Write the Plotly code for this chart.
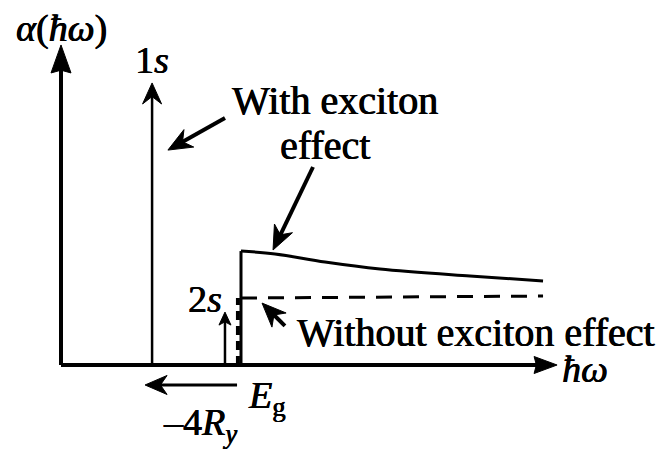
import numpy as np
import plotly.graph_objects as go

PX = 180.0  # screen pixels per data unit, same on both axes

# Photon energy (arbitrary units, band gap at 1.0) and absorption strength
E_GAP = 1.0
level_names = ["1s", "2s"]
level_energy = [0.506, 0.911]
level_height = [1.567, 0.294]

# Continuum absorption with the excitonic (Sommerfeld) enhancement
with_x = [1.0, 1.189, 1.467, 1.772, 2.272, 2.678]
with_y = [0.633, 0.617, 0.572, 0.533, 0.494, 0.467]

# Free-carrier step absorption without exciton effect
without_x = [1.0, 2.678]
without_y = [0.372, 0.383]
without_edge_x = 0.983

# Axis extents
axis_x_end = 2.756
axis_y_end = 1.778

# Binding-energy arrow (-4 Ry), drawn below the energy axis
ry_arrow_x = [0.978, 0.467]
ry_arrow_y = -0.111

# Pointer arrows: (tail x, tail y, tip x, tip y)
pointers = [
    (0.911, 1.372, 0.594, 1.194),
    (1.400, 1.100, 1.178, 0.639),
    (1.244, 0.217, 1.117, 0.344),
]

FONT = "Liberation Serif, Times New Roman, DejaVu Serif, serif"
SHADOW = "0.6px 0px 0px black, -0.3px 0px 0px black"
fig = go.Figure()


def add_line(xs, ys, width=3, dash="solid", shape="linear"):
    fig.add_trace(go.Scatter(x=xs, y=ys, mode="lines",
                             line=dict(color="black", width=width, dash=dash, shape=shape),
                             hoverinfo="skip"))


def add_arrow(tail, tip, width=3, head_len=22, head_w=18, notch=0.2):
    tail = np.array(tail, float)
    tip = np.array(tip, float)
    d = tip - tail
    d /= np.linalg.norm(d)
    n = np.array([-d[1], d[0]])
    L = head_len / PX
    W = head_w / PX / 2
    base = tip - d * L
    back = base + d * L * notch
    end = tip - d * L * 0.6
    add_line([tail[0], end[0]], [tail[1], end[1]], width=width)
    pts = [tip, base + n * W, back, base - n * W, tip]
    fig.add_trace(go.Scatter(x=[p[0] for p in pts], y=[p[1] for p in pts],
                             mode="lines", fill="toself", fillcolor="black",
                             line=dict(color="black", width=1), hoverinfo="skip"))


# Axes
add_arrow((0, 0), (0, axis_y_end), width=4, head_len=28, head_w=20, notch=0.1)
add_arrow((0, 0), (axis_x_end, 0), width=4, head_len=23, head_w=17, notch=0.1)

# Discrete exciton lines
add_arrow((level_energy[0], 0), (level_energy[0], level_height[0]),
          width=2.5, head_len=21, head_w=19, notch=0.35)
add_arrow((level_energy[1], 0), (level_energy[1], level_height[1]),
          width=2.5, head_len=13, head_w=12, notch=0.25)

# Continuum with exciton effect
add_line([E_GAP, E_GAP], [0, with_y[0]], width=3)
add_line(with_x, with_y, width=3, shape="spline")

# Continuum without exciton effect
add_line([without_edge_x, without_edge_x], [0, without_y[0]], width=4, dash="9px,6px")
add_line(without_x, without_y, width=3, dash="16px,11px")

# -4 Ry arrow
add_arrow((ry_arrow_x[0], ry_arrow_y), (ry_arrow_x[1], ry_arrow_y),
          width=3, head_len=22, head_w=19, notch=0.3)

# Pointers
for tx, ty, hx, hy in pointers:
    add_arrow((tx, ty), (hx, hy), width=4, head_len=24, head_w=20, notch=0.3)

texts = [
    (0.0, 1.872, "<i>α</i>(<i>ħω</i>)", 38),
    (level_energy[0], 1.694, "1<i>s</i>", 38),
    (0.800, 0.367, "2<i>s</i>", 38),
    (1.144, -0.183, "<i>E</i><sub>g</sub>", 38),
    (0.772, -0.335, "–4<i>R</i><sub><i>y</i></sub>", 38),
    (2.911, -0.022, "<i>ħω</i>", 38),
    (1.522, 1.472, "With exciton", 40),
    (1.467, 1.222, "effect", 40),
    (2.306, 0.178, "Without exciton effect", 40),
]
for x, y, t, s in texts:
    fig.add_annotation(x=x, y=y, text=t, showarrow=False,
                       font=dict(family=FONT, size=s, color="black", shadow=SHADOW),
                       xanchor="center", yanchor="middle")

fig.update_layout(
    width=666, height=449,
    margin=dict(l=0, r=0, t=0, b=0),
    paper_bgcolor="white", plot_bgcolor="white",
    showlegend=False, hovermode=False,
    xaxis=dict(range=[-61 / PX, (666 - 61) / PX], visible=False, fixedrange=True),
    yaxis=dict(range=[(365 - 449) / PX, 365 / PX], visible=False, fixedrange=True),
)

fig.write_html("out.html", config={"displayModeBar": False})
